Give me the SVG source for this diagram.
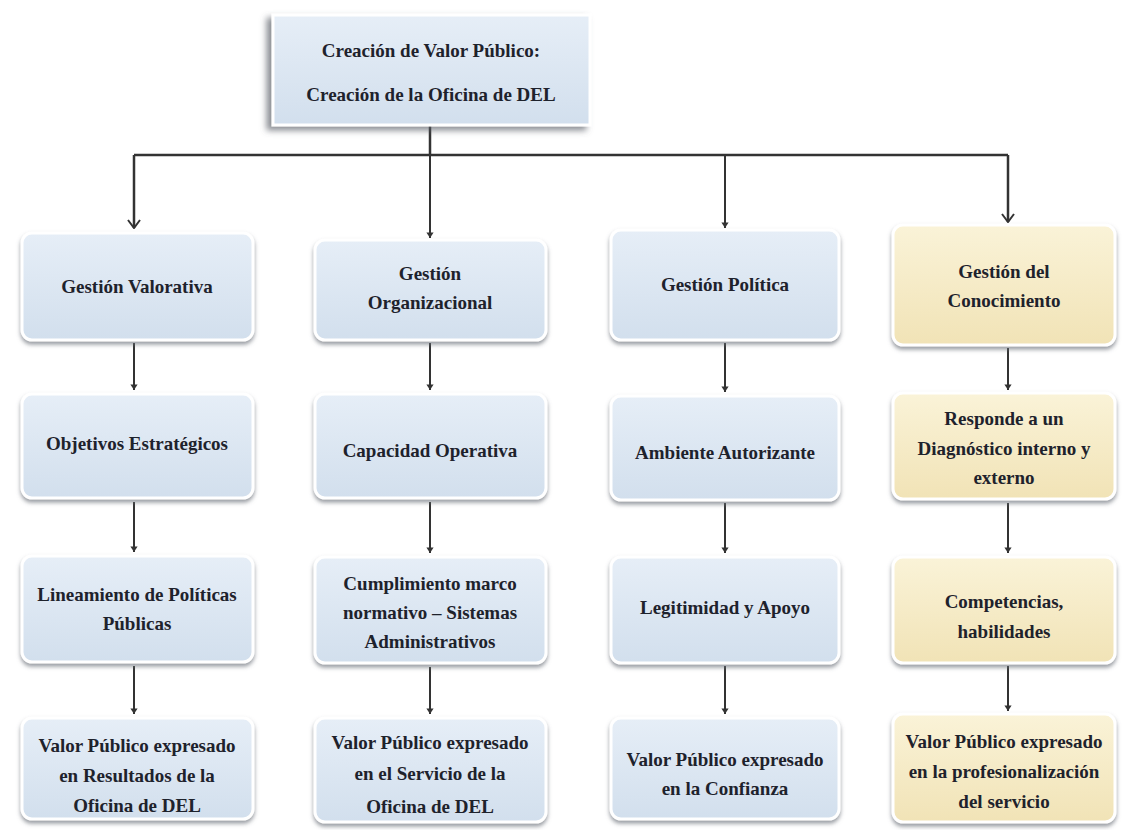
<svg xmlns="http://www.w3.org/2000/svg" width="1123" height="830" viewBox="0 0 1123 830">
<defs>
<linearGradient id="gBlue" x1="0" y1="0" x2="0" y2="1">
<stop offset="0" stop-color="#e6eef7"/>
<stop offset="1" stop-color="#d2dfed"/>
</linearGradient>
<linearGradient id="gYellow" x1="0" y1="0" x2="0" y2="1">
<stop offset="0" stop-color="#faf3d8"/>
<stop offset="1" stop-color="#f1e3b6"/>
</linearGradient>
<filter id="sh" x="-10%" y="-10%" width="120%" height="130%">
<feDropShadow dx="0" dy="3" stdDeviation="2" flood-color="#6b7078" flood-opacity="0.7"/>
</filter>
<filter id="shTop" x="-10%" y="-10%" width="120%" height="130%">
<feDropShadow dx="-5" dy="4" stdDeviation="3" flood-color="#5a5f66" flood-opacity="0.7"/>
</filter>
<marker id="arr" viewBox="0 0 14 12" refX="7" refY="11" markerWidth="14" markerHeight="12" markerUnits="userSpaceOnUse">
<path d="M1,3 L7,11 L13,3" fill="none" stroke="#333" stroke-width="2"/>
</marker>
<marker id="arrS" viewBox="0 0 10 10" refX="5" refY="9" markerWidth="9" markerHeight="9" markerUnits="userSpaceOnUse">
<path d="M1,3 L5,9 L9,3 Z" fill="#333"/>
</marker>
</defs>
<style>
.box{stroke:#ffffff;stroke-width:3}
.blue{fill:url(#gBlue)}
.yellow{fill:url(#gYellow)}
.t{font-family:'Liberation Serif','Times New Roman',serif;font-weight:bold;font-size:19px;fill:#1e222c;text-anchor:middle}
.ln{stroke:#333;stroke-width:2.5;fill:none}
.lns{stroke:#333;stroke-width:2;fill:none}
</style>
<rect width="1123" height="830" fill="#ffffff"/>

<g id="connectors">
<path class="ln" d="M430,125 V155"/>
<path class="ln" d="M134,155 H1008"/>
<path class="ln" d="M134,155 V228" marker-end="url(#arr)"/>
<path class="lns" d="M430,155 V238" marker-end="url(#arrS)"/>
<path class="lns" d="M725,155 V228" marker-end="url(#arrS)"/>
<path class="ln" d="M1008,155 V222" marker-end="url(#arr)"/>
<path class="lns" d="M134,343 V390" marker-end="url(#arrS)"/>
<path class="lns" d="M134,502 V552" marker-end="url(#arrS)"/>
<path class="lns" d="M134,666 V714" marker-end="url(#arrS)"/>
<path class="lns" d="M430,343 V390" marker-end="url(#arrS)"/>
<path class="lns" d="M430,502 V553" marker-end="url(#arrS)"/>
<path class="lns" d="M430,667 V714" marker-end="url(#arrS)"/>
<path class="lns" d="M725,343 V392" marker-end="url(#arrS)"/>
<path class="lns" d="M725,503 V553" marker-end="url(#arrS)"/>
<path class="lns" d="M725,666 V714" marker-end="url(#arrS)"/>
<path class="lns" d="M1008,348 V390" marker-end="url(#arrS)"/>
<path class="lns" d="M1008,503 V553" marker-end="url(#arrS)"/>
<path class="lns" d="M1008,666 V711" marker-end="url(#arrS)"/>
</g>

<g id="top">
<rect x="273" y="15" width="317" height="110" class="box blue" filter="url(#shTop)"/>
<text class="t" x="431" y="57">Creación de Valor Público:</text>
<text class="t" x="431" y="101">Creación de la Oficina de DEL</text>
</g>

<g id="gestion-valorativa">
<rect x="22" y="233" width="231" height="107" rx="10" class="box blue" filter="url(#sh)"/>
<text class="t" x="137" y="293">Gestión Valorativa</text>
</g>
<g id="gestion-organizacional">
<rect x="315" y="240" width="231" height="100" rx="10" class="box blue" filter="url(#sh)"/>
<text class="t" x="430" y="280">Gestión</text>
<text class="t" x="430" y="309">Organizacional</text>
</g>
<g id="gestion-politica">
<rect x="611" y="230" width="228" height="110" rx="10" class="box blue" filter="url(#sh)"/>
<text class="t" x="725" y="291">Gestión Política</text>
</g>
<g id="gestion-conocimiento">
<rect x="893" y="225" width="222" height="120" rx="10" class="box yellow" filter="url(#sh)"/>
<text class="t" x="1004" y="278">Gestión del</text>
<text class="t" x="1004" y="307">Conocimiento</text>
</g>

<g id="objetivos">
<rect x="22" y="394" width="231" height="104" rx="10" class="box blue" filter="url(#sh)"/>
<text class="t" x="137" y="450">Objetivos Estratégicos</text>
</g>
<g id="capacidad">
<rect x="315" y="394" width="231" height="104" rx="10" class="box blue" filter="url(#sh)"/>
<text class="t" x="430" y="457">Capacidad Operativa</text>
</g>
<g id="ambiente">
<rect x="611" y="396" width="228" height="104" rx="10" class="box blue" filter="url(#sh)"/>
<text class="t" x="725" y="459">Ambiente Autorizante</text>
</g>
<g id="responde">
<rect x="893" y="393" width="222" height="106" rx="10" class="box yellow" filter="url(#sh)"/>
<text class="t" x="1004" y="425">Responde a un</text>
<text class="t" x="1004" y="455">Diagnóstico interno y</text>
<text class="t" x="1004" y="484">externo</text>
</g>

<g id="lineamiento">
<rect x="22" y="556" width="231" height="106" rx="10" class="box blue" filter="url(#sh)"/>
<text class="t" x="137" y="601">Lineamiento de Políticas</text>
<text class="t" x="137" y="630">Públicas</text>
</g>
<g id="cumplimiento">
<rect x="315" y="557" width="231" height="106" rx="10" class="box blue" filter="url(#sh)"/>
<text class="t" x="430" y="590">Cumplimiento marco</text>
<text class="t" x="430" y="619">normativo – Sistemas</text>
<text class="t" x="430" y="648">Administrativos</text>
</g>
<g id="legitimidad">
<rect x="611" y="557" width="228" height="106" rx="10" class="box blue" filter="url(#sh)"/>
<text class="t" x="725" y="614">Legitimidad y Apoyo</text>
</g>
<g id="competencias">
<rect x="893" y="557" width="222" height="106" rx="10" class="box yellow" filter="url(#sh)"/>
<text class="t" x="1004" y="608">Competencias,</text>
<text class="t" x="1004" y="638">habilidades</text>
</g>

<g id="valor-resultados">
<rect x="22" y="718" width="231" height="101" rx="10" class="box blue" filter="url(#sh)"/>
<text class="t" x="137" y="752">Valor Público expresado</text>
<text class="t" x="137" y="782">en Resultados de la</text>
<text class="t" x="137" y="812">Oficina de DEL</text>
</g>
<g id="valor-servicio">
<rect x="315" y="718" width="231" height="104" rx="10" class="box blue" filter="url(#sh)"/>
<text class="t" x="430" y="749">Valor Público expresado</text>
<text class="t" x="430" y="780">en el Servicio de la</text>
<text class="t" x="430" y="813">Oficina de DEL</text>
</g>
<g id="valor-confianza">
<rect x="611" y="718" width="228" height="101" rx="10" class="box blue" filter="url(#sh)"/>
<text class="t" x="725" y="766">Valor Público expresado</text>
<text class="t" x="725" y="795">en la Confianza</text>
</g>
<g id="valor-profesionalizacion">
<rect x="893" y="714" width="222" height="108" rx="10" class="box yellow" filter="url(#sh)"/>
<text class="t" x="1004" y="748">Valor Público expresado</text>
<text class="t" x="1004" y="778">en la profesionalización</text>
<text class="t" x="1004" y="808">del servicio</text>
</g>
</svg>
